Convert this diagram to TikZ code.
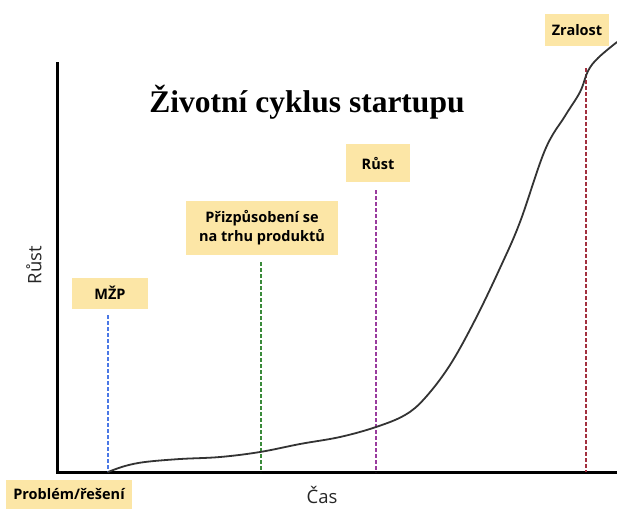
\documentclass[tikz,border=0pt]{standalone}
\usepackage{fontspec}
\setmainfont{Liberation Serif}
\newfontfamily\labelfont{Open Sans}
\usetikzlibrary{positioning,calc}
\definecolor{boxyellow}{HTML}{FCE6A6}
\definecolor{mzpblue}{HTML}{4A78E6}
\definecolor{fitgreen}{HTML}{3A8A3A}
\definecolor{growpurple}{HTML}{9A3C9E}
\definecolor{maturered}{HTML}{A3303F}
\tikzset{every picture/.style={line width=0.75pt}}
\tikzset{
  stagebox/.style={fill=boxyellow, font=\labelfont\bfseries\fontsize{14.5}{19}\selectfont,
    inner xsep=7pt, inner ysep=8pt, minimum height=31pt, align=center},
  stageline/.style={dashed, line width=1.4pt, dash pattern=on 4pt off 2pt},
  axislabel/.style={font=\labelfont\fontsize{18.5}{20}\selectfont, text=black!85}
}

\begin{document}
\begin{tikzpicture}[x=1pt,y=-1pt]
    \useasboundingbox (0,0) rectangle (617,509);

    % osy
    \coordinate (top) at (57,62);
    \coordinate (origin) at (57,472);
    \coordinate (right) at (617,472);
    \draw[line width=3pt] (top) -- (origin) -- (right);

    % nadpis
    \node (title) at (307,102) {\bfseries\fontsize{31.5}{36}\selectfont Životní cyklus startupu};

    % popisky os
    \node[axislabel, rotate=90] (ylab) at (34,265) {Růst};
    \node[axislabel] (xlab) at (322,495) {Čas};

    % fáze
    \node[stagebox, minimum height=29pt] (problem) at (69,494) {Problém/řešení};
    \node[stagebox, minimum width=76pt] (mzp) at (110,293) {MŽP};
    \node[stagebox, minimum width=152pt, inner ysep=10pt] (fit) at (262,228) {Přizpůsobení se\\na trhu produktů};
    \node[stagebox, minimum width=64pt, minimum height=38pt] (rust) at (378,163) {Růst};
    \node[stagebox, minimum height=32pt] (zralost) at (577,30) {Zralost};

    % svislé čáry
    \coordinate (mzptop) at (108,315);
    \coordinate (mzpbot) at (108,472);
    \coordinate (fittop) at (261,262);
    \coordinate (fitbot) at (261,472);
    \coordinate (rusttop) at (376,190);
    \coordinate (rustbot) at (376,472);
    \coordinate (zraltop) at (586,68);
    \coordinate (zralbot) at (586,472);
    \draw[stageline, mzpblue] (mzptop) -- (mzpbot);
    \draw[stageline, fitgreen] (fittop) -- (fitbot);
    \draw[stageline, growpurple] (rusttop) -- (rustbot);
    \draw[stageline, maturered] (zraltop) -- (zralbot);

    % křivka
    \draw[line width=1.8pt, black!80, line cap=round] plot[smooth, tension=0.6] coordinates {
      (108,472) (125,466) (145,462) (180,459) (220,457) (260,452) (300,444)
      (340,437) (376,427) (405,415) (425,398) (450,365) (475,320) (500,268)
      (520,222) (545,150) (565,116) (580,92) (588,71) (598,58) (617,42)};
\end{tikzpicture}
\end{document}
